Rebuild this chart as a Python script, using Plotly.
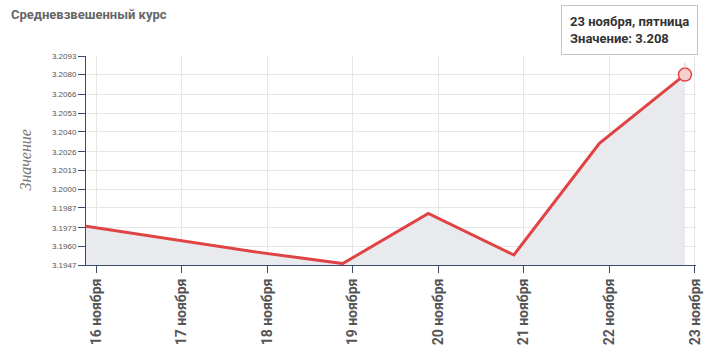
import plotly.graph_objects as go

dates = ["16 ноября", "17 ноября", "18 ноября", "19 ноября",
         "20 ноября", "21 ноября", "22 ноября", "23 ноября"]
values = [3.1974, 3.1965, 3.1956, 3.1948, 3.1983, 3.1954, 3.2032, 3.2080]
y_ticks = [3.1947, 3.1960, 3.1973, 3.1987, 3.2000, 3.2013,
           3.2026, 3.2040, 3.2053, 3.2066, 3.2080, 3.2093]
y_tick_text = ["3.1947", "3.1960", "3.1973", "3.1987", "3.2000", "3.2013",
               "3.2026", "3.2040", "3.2053", "3.2066", "3.2080", "3.2093"]
title_text = "Средневзвешенный курс"
y_title = "Значение"
tooltip_lines = ["23 ноября, пятница", "Значение: 3.208"]

x_idx = list(range(len(dates)))
tick_offset = 0.117
tick_pos = [i + tick_offset for i in x_idx]

NARROW = "Roboto, sans-serif"
AXIS_COLOR = "#3d4a6b"

fig = go.Figure()
fig.add_trace(go.Scatter(
    x=x_idx, y=values, mode="lines",
    line=dict(color="#e04343", width=3),
    fill="tozeroy", fillcolor="#e9eaee",
    hoverinfo="skip", showlegend=False,
))
fig.add_trace(go.Scatter(
    x=[x_idx[-1]], y=[values[-1]], mode="markers",
    marker=dict(size=13, color="#f7cfcf", line=dict(color="#e04343", width=1.5)),
    hoverinfo="skip", showlegend=False,
))

fig.update_layout(
    width=716, height=358,
    margin=dict(l=86, r=20, t=56, b=93),
    paper_bgcolor="white", plot_bgcolor="white",
    hovermode=False,
    xaxis=dict(
        range=[0, 7.129], tickvals=tick_pos, ticktext=dates,
        tickangle=-90, ticks="outside", ticklen=7, tickcolor=AXIS_COLOR,
        showline=True, linecolor=AXIS_COLOR, linewidth=1,
        showgrid=True, gridcolor="#e6e6e6", zeroline=False,
        tickfont=dict(family=NARROW, size=14, color="#555555", weight="bold"),
    ),
    yaxis=dict(
        range=[y_ticks[0], y_ticks[-1]], tickvals=y_ticks, ticktext=y_tick_text,
        ticks="outside", ticklen=7, tickcolor=AXIS_COLOR,
        showline=True, linecolor=AXIS_COLOR, linewidth=1,
        showgrid=True, gridcolor="#e6e6e6", zeroline=False,
        tickfont=dict(family="Liberation Sans, Arial, sans-serif", size=8, color="#555555"),
    ),
    annotations=[
        dict(text=title_text, xref="paper", yref="paper",
             x=(9 - 86) / 610, y=1 + (56 - 15) / 209, xanchor="left", yanchor="middle",
             showarrow=False,
             font=dict(family=NARROW, size=13, color="#666666", weight="bold")),
        dict(text=y_title, xref="paper", yref="paper",
             x=(25 - 86) / 610, y=0.5, xanchor="center", yanchor="middle",
             textangle=-90, showarrow=False,
             font=dict(family="Liberation Serif, serif", size=16, color="#777777",
                       style="italic")),
        dict(text="<br>".join(tooltip_lines), xref="paper", yref="paper",
             x=(698 - 86) / 610, y=1 + (56 - 5) / 209, xanchor="right", yanchor="top",
             align="left", showarrow=False,
             bgcolor="white", bordercolor="#c4c4c4", borderwidth=1, borderpad=8,
             font=dict(family=NARROW, size=13, color="#333333", weight="bold")),
        dict(x=x_idx[-1], y=values[-1], xref="x", yref="y", text="",
             showarrow=True, arrowhead=0, arrowwidth=1, arrowcolor="#c4c4c4",
             ax=0, ay=-13, standoff=6),
    ],
)

fig.write_html("out.html")
